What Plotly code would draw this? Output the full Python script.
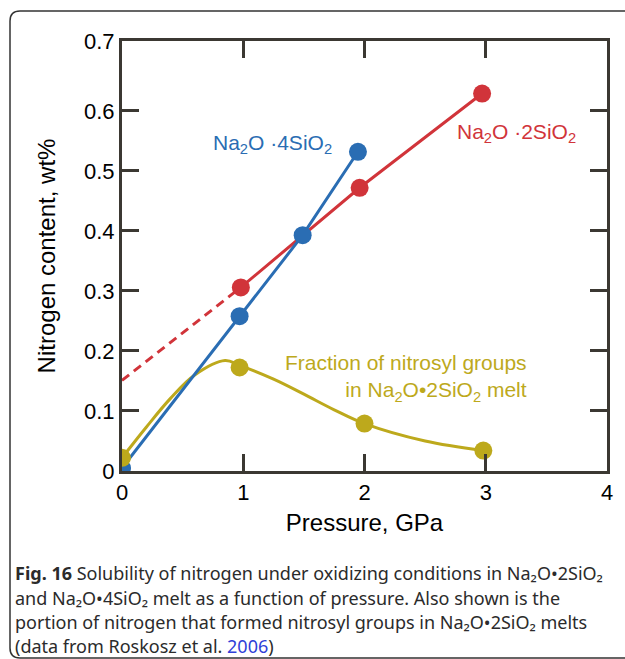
import plotly.graph_objects as go

# ---- data ----
pressure_4si = [0.0, 0.97, 1.49, 1.946]
nitrogen_4si = [0.005, 0.258, 0.393, 0.532]

pressure_2si = [0.98, 1.96, 2.97]
nitrogen_2si = [0.306, 0.472, 0.629]

extrap_2si_x = [0.0, 0.98]
extrap_2si_y = [0.151, 0.306]

pressure_nitrosyl = [0.0, 0.97, 2.0, 2.98]
fraction_nitrosyl = [0.022, 0.1725, 0.079, 0.034]

# fitted curve through nitrosyl data
fit_x = [0.0, 0.2, 0.4, 0.6, 0.85, 0.97, 1.25, 1.5, 1.75, 2.0, 2.5, 2.98]
fit_y = [0.022, 0.073, 0.121, 0.160, 0.184, 0.176, 0.153, 0.128, 0.102, 0.079, 0.050, 0.034]

x_ticks = [0, 1, 2, 3, 4]
y_ticks = [0, 0.1, 0.2, 0.3, 0.4, 0.5, 0.6]
y_tick_labels = ["0", "0.1", "0.2", "0.3", "0.4", "0.5", "0.6"]

BLUE = "#2a6db3"
RED = "#d1343a"
YEL = "#bda91c"
AX = "#3b3832"
LBL_FONT = "Liberation Sans, Arial, sans-serif"

W, H = 625, 659
L, R, T, B = 122, 18, 41, 188
PW, PH = W - L - R, H - T - B
YMAX = 0.7166

def px_x(p):
    return (p - L) / PW

def px_y(p):
    return (H - B - p) / PH

fig = go.Figure()

fig.add_trace(go.Scatter(x=extrap_2si_x, y=extrap_2si_y, mode="lines",
                         line=dict(color=RED, width=3, dash="9px,6px"),
                         showlegend=False, hoverinfo="skip"))
fig.add_trace(go.Scatter(x=pressure_2si, y=nitrogen_2si, mode="lines+markers",
                         line=dict(color=RED, width=3),
                         marker=dict(color=RED, size=18),
                         showlegend=False))
fig.add_trace(go.Scatter(x=fit_x, y=fit_y, mode="lines",
                         line=dict(color=YEL, width=3, shape="spline", smoothing=1.0),
                         showlegend=False, hoverinfo="skip"))
fig.add_trace(go.Scatter(x=pressure_4si, y=nitrogen_4si, mode="lines+markers",
                         line=dict(color=BLUE, width=3),
                         marker=dict(color=BLUE, size=18),
                         showlegend=False))
fig.add_trace(go.Scatter(x=pressure_nitrosyl, y=fraction_nitrosyl, mode="markers",
                         marker=dict(color=YEL, size=18),
                         showlegend=False))

axis_common = dict(showline=True, linecolor=AX, linewidth=3, mirror="allticks",
                   ticks="inside", ticklen=17, tickwidth=3, tickcolor=AX,
                   showgrid=False, zeroline=False,
                   tickfont=dict(family=LBL_FONT, size=22, color="black"))

fig.update_xaxes(range=[0, 4.0], tickvals=x_ticks,
                 title=dict(text="Pressure, GPa", standoff=10,
                            font=dict(family=LBL_FONT, size=24, color="black")),
                 **axis_common)
fig.update_yaxes(range=[0, YMAX], tickvals=y_ticks + [YMAX],
                 ticktext=y_tick_labels + ["0.7"],
                 title=dict(text="Nitrogen content, wt%", standoff=22,
                            font=dict(family=LBL_FONT, size=24, color="black")),
                 **axis_common)

annotations = [
    dict(x=0.73, y=0.545, xref="x", yref="y", xanchor="left", yanchor="middle",
         text="Na<sub>2</sub>O ·4SiO<sub>2</sub>", showarrow=False,
         font=dict(family=LBL_FONT, size=21, color=BLUE)),
    dict(x=2.75, y=0.563, xref="x", yref="y", xanchor="left", yanchor="middle",
         text="Na<sub>2</sub>O ·2SiO<sub>2</sub>", showarrow=False,
         font=dict(family=LBL_FONT, size=21, color=RED)),
    dict(x=3.36, y=0.155, xref="x", yref="y", xanchor="right", yanchor="middle",
         align="right",
         text="Fraction of nitrosyl groups<br>in Na<sub>2</sub>O•2SiO<sub>2</sub> melt",
         showarrow=False, font=dict(family=LBL_FONT, size=21, color=YEL)),
]

CAP_FONT = "Noto Sans, Open Sans, sans-serif"
cap_lines = [
    "<b>Fig. 16</b> Solubility of nitrogen under oxidizing conditions in Na₂O•2SiO₂",
    "and Na₂O•4SiO₂ melt as a function of pressure. Also shown is the",
    "portion of nitrogen that formed nitrosyl groups in Na₂O•2SiO₂ melts",
    "(data from Roskosz et al. <span style='color:#2f3fd8'>2006</span>)",
]
cap_y = [573, 598, 622, 646]
for txt, yy in zip(cap_lines, cap_y):
    annotations.append(dict(x=px_x(13), y=px_y(yy), xref="paper", yref="paper",
                            xanchor="left", yanchor="middle", text=txt,
                            showarrow=False,
                            font=dict(family=CAP_FONT, size=18, color="#2b2b2b")))

# outer frame with rounded left corners
x0, x1 = px_x(10), px_x(640)
yt, yb = px_y(11), px_y(658)
rx, ry = 10 / PW, 10 / PH
frame_path = (f"M {x1},{yt} L {x0 + rx},{yt} Q {x0},{yt} {x0},{yt - ry} "
              f"L {x0},{yb + ry} Q {x0},{yb} {x0 + rx},{yb} L {x1},{yb}")

fig.update_layout(
    width=W, height=H,
    margin=dict(l=L, r=R, t=T, b=B),
    paper_bgcolor="white", plot_bgcolor="white",
    annotations=annotations,
    shapes=[dict(type="path", path=frame_path, xref="paper", yref="paper",
                 line=dict(color="#333333", width=1.5))],
    showlegend=False,
)

fig.write_html("out.html")
